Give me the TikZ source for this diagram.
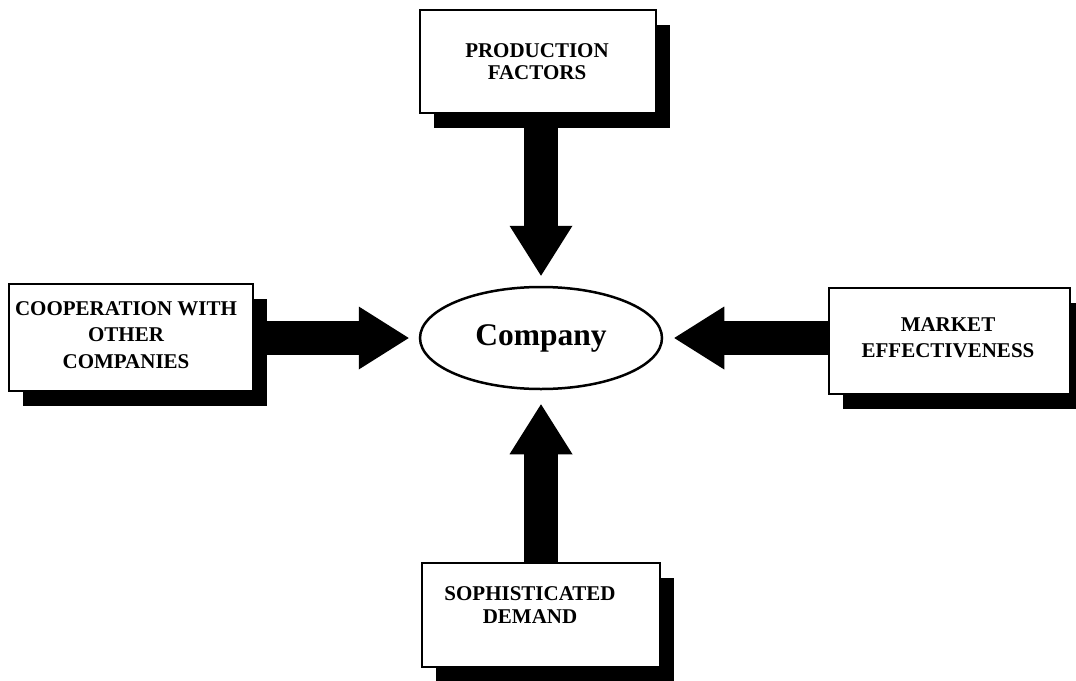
\documentclass[tikz,border=0pt]{standalone}
\usepackage{fontspec}
\setmainfont{Liberation Serif}
\usetikzlibrary{arrows.meta,shapes.geometric,shadows}

\begin{document}
\begin{tikzpicture}[x=1pt,y=-1pt,
  box/.style={rectangle, draw=black, line width=2.5pt, fill=white,
    drop shadow={shadow xshift=14pt, shadow yshift=-15pt, fill=black, opacity=1}},
  boxtext/.style={align=center, inner sep=0pt,
    font=\bfseries\fontsize{21}{#1}\selectfont},
  hub/.style={ellipse, draw=black, line width=2.5pt, fill=white,
    minimum width=242pt, minimum height=102pt, inner sep=0pt,
    font=\bfseries\fontsize{31.5}{36}\selectfont},
  bigarrow/.style={line width=34pt, line cap=butt,
    -{Triangle[width=63pt, length=50pt, line width=0pt]}}
]
\path[use as bounding box] (0,0) rectangle (1076,680);
\clip (0,0) rectangle (1076,680);

% outer boxes, each with a hard black drop shadow
\node[box, minimum width=236pt, minimum height=103pt] (prod) at (538,61.5) {};
\node[box, minimum width=244pt, minimum height=107pt] (coop) at (131,337.5) {};
\node[box, minimum width=241pt, minimum height=106pt] (mark) at (949.5,341) {};
\node[box, minimum width=238pt, minimum height=104pt] (soph) at (541,615) {};

% box captions
\node[boxtext=22] (prodt) at (537,61.5) {PRODUCTION\\FACTORS};
\node[boxtext=26.5] (coopt) at (126,335) {COOPERATION WITH\\OTHER\\COMPANIES};
\node[boxtext=26] (markt) at (948,338) {MARKET\\EFFECTIVENESS};
\node[boxtext=23] (sopht) at (530,605) {SOPHISTICATED\\DEMAND};

% central ellipse
\node[hub] (comp) at (541,338) {Company};

% block arrows pointing at the company
\draw[bigarrow, shorten >=10pt] (prod.south -| comp.center) -- (comp.north);
\draw[bigarrow, shorten >=10pt] (coop.east |- comp.center) -- (comp.west);
\draw[bigarrow, shorten >=11pt] (mark.west |- comp.center) -- (comp.east);
\draw[bigarrow, shorten >=14pt] (soph.north -| comp.center) -- (comp.south);
\end{tikzpicture}
\end{document}
